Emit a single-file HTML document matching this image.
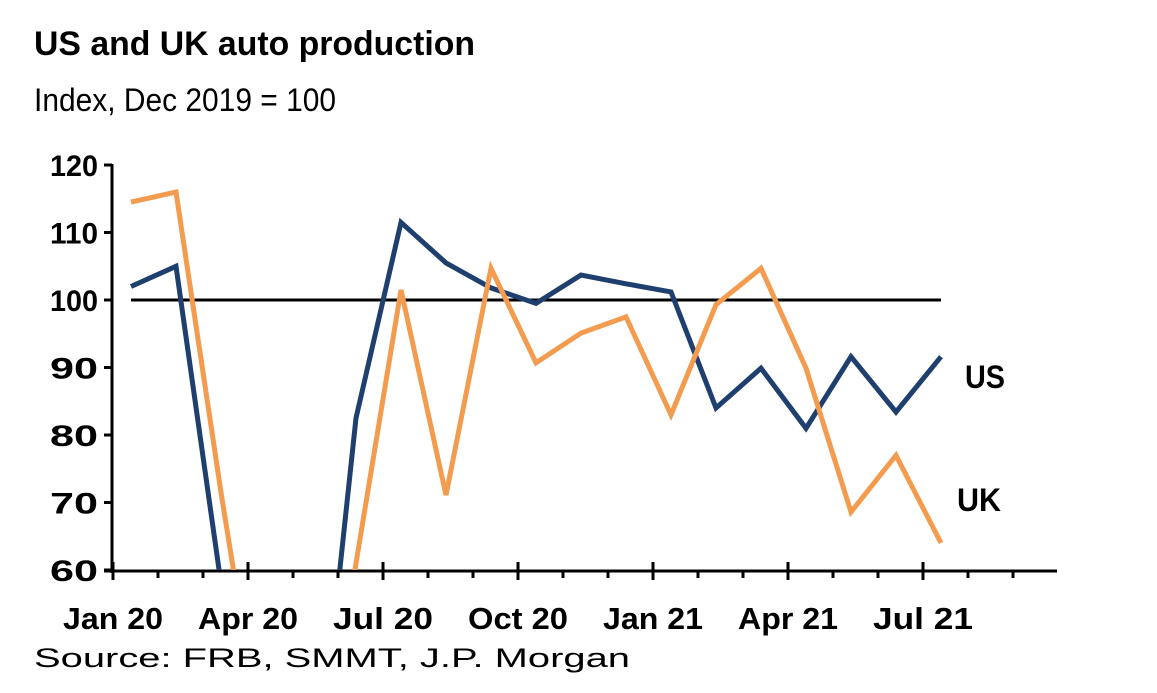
<!DOCTYPE html>
<html><head><meta charset="utf-8"><style>
html,body{margin:0;padding:0;background:#fff;width:1157px;height:693px;overflow:hidden;}
svg{display:block;font-family:"Liberation Sans",Arial,sans-serif;}
</style></head><body>
<svg id="chart" width="1157" height="693" viewBox="0 0 1157 693">
<text x="34" y="55" font-size="34" font-weight="bold" textLength="441" lengthAdjust="spacingAndGlyphs">US and UK auto production</text>
<text x="34" y="111" font-size="32" textLength="302" lengthAdjust="spacingAndGlyphs">Index, Dec 2019 = 100</text>
<text x="34" y="667" font-size="27" textLength="596" lengthAdjust="spacingAndGlyphs">Source: FRB, SMMT, J.P. Morgan</text>
<defs><clipPath id="plotclip"><rect x="112" y="150" width="950" height="420"/></clipPath></defs>
<g id="axes"></g>
<g id="series" clip-path="url(#plotclip)"></g>
<text x="965" y="388" font-size="32" font-weight="bold" textLength="40" lengthAdjust="spacingAndGlyphs">US</text>
<text x="957" y="511" font-size="32" font-weight="bold" textLength="44" lengthAdjust="spacingAndGlyphs">UK</text>
</svg>
<script>
const months = ["Jan 20","Feb 20","Mar 20","Apr 20","May 20","Jun 20","Jul 20","Aug 20","Sep 20","Oct 20","Nov 20","Dec 20","Jan 21","Feb 21","Mar 21","Apr 21","May 21","Jun 21","Jul 21"];
const usValues = [102,105,58,10,20,82.5,111.5,105.5,101.8,99.5,103.7,102.4,101.2,84,89.9,81,91.6,83.4,91.6];
const ukValues = [114.5,116,71.5,30,15,61,101.5,71.1,104.7,90.7,95.1,97.5,83,99.3,104.7,89.9,68.6,77,64];
const yTicks = [60,70,80,90,100,110,120];
const xTickLabels = ["Jan 20","Apr 20","Jul 20","Oct 20","Jan 21","Apr 21","Jul 21"];
const refValue = 100;

const NS="http://www.w3.org/2000/svg";
const x0=113, monthW=45, yMin=60, yMax=120, yBot=570, yTop=165;
function xPos(i){return x0+monthW*(i+0.4);}
function yPos(v){return yBot-(v-yMin)*(yBot-yTop)/(yMax-yMin);}
function mk(tag,attrs,parent){const e=document.createElementNS(NS,tag);for(const k in attrs)e.setAttribute(k,attrs[k]);parent.appendChild(e);return e;}
const axes=document.getElementById('axes'), series=document.getElementById('series');

let yl=mk('line',{x1:112,y1:yTop-1,x2:112,y2:yBot+3,stroke:'#000','stroke-width':3},axes);


yTicks.forEach(v=>{
  const t=mk('line',{x1:104,y1:yPos(v),x2:112,y2:yPos(v),stroke:'#000','stroke-width':3},axes);
  
  
  const l=mk('text',{x:98,y:yPos(v)+11,'font-size':30,'font-weight':'bold','text-anchor':'end',textLength:48,lengthAdjust:'spacingAndGlyphs'},axes);
  l.textContent=v;
  
  
});
let xl=mk('line',{x1:104,y1:571,x2:1057,y2:571,stroke:'#000','stroke-width':3},axes);


for(let k=0;k<=20;k++){
  const x=x0+monthW*k, major=k%3===0;
  const t=mk('line',{x1:x,y1:major?562:571,x2:x,y2:major?580:578,stroke:'#000','stroke-width':3},axes);
  
  
}
xTickLabels.forEach((s,j)=>{
  const l=mk('text',{x:x0+monthW*3*j,y:629,'font-size':31,'font-weight':'bold','text-anchor':'middle',textLength:s.length>5?100:88,lengthAdjust:'spacingAndGlyphs'},axes);
  l.textContent=s;
  
  
});
const ref=mk('line',{x1:xPos(0),y1:yPos(refValue),x2:xPos(months.length-1),y2:yPos(refValue),stroke:'#000','stroke-width':3},series);


function path(vals,color,name){
  const d=vals.map((v,i)=>(i?'L':'M')+xPos(i).toFixed(1)+','+yPos(v).toFixed(1)).join(' ');
  const p=mk('path',{d:d,fill:'none',stroke:color,'stroke-width':5,'stroke-linejoin':'miter'},series);
  
  
}
path(usValues,'#1f3f6e','us-line');
path(ukValues,'#f39c4f','uk-line');
</script>
</body></html>
